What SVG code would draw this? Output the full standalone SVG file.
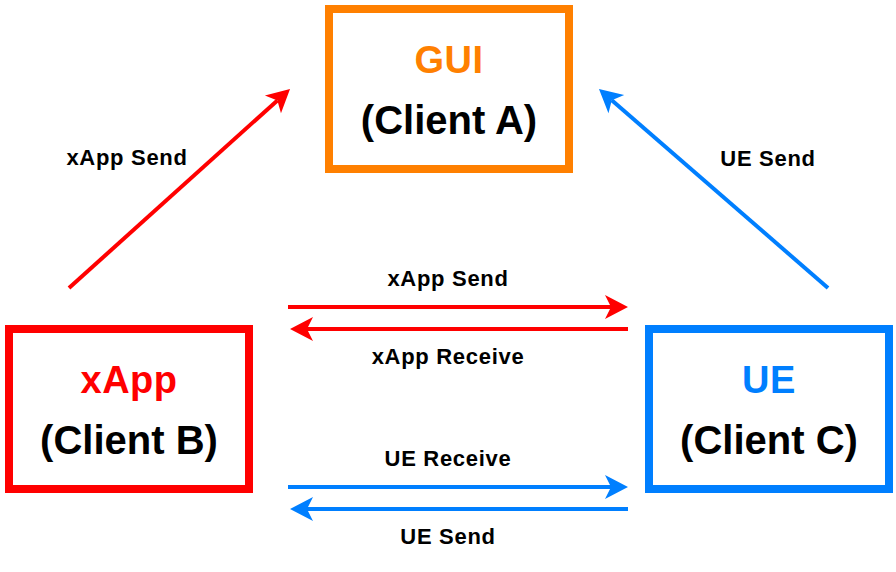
<svg xmlns="http://www.w3.org/2000/svg" width="896" height="572" viewBox="0 0 896 572">
<style>
.box{fill:#fff;stroke-width:8}
.title{font-family:"Liberation Sans",Arial,sans-serif;font-weight:bold;font-size:38px;letter-spacing:0.5px;text-anchor:middle}
.sub{font-family:"Liberation Sans",Arial,sans-serif;font-weight:bold;font-size:40px;text-anchor:middle;fill:#000}
.lbl{font-family:"Liberation Sans",Arial,sans-serif;font-weight:bold;font-size:22px;letter-spacing:0.7px;text-anchor:middle;fill:#000}
.r{stroke:#FF0000;stroke-width:4;fill:none}
.b{stroke:#007FFF;stroke-width:4;fill:none}
</style>
<defs>
<marker id="ar" markerUnits="userSpaceOnUse" viewBox="-24 -13 26 26" refX="-17" refY="0" markerWidth="26" markerHeight="26" orient="auto"><path d="M0,0 L-23,-12 L-17,0 L-23,12 Z" fill="#FF0000"/></marker>
<marker id="ab" markerUnits="userSpaceOnUse" viewBox="-24 -13 26 26" refX="-17" refY="0" markerWidth="26" markerHeight="26" orient="auto"><path d="M0,0 L-23,-12 L-17,0 L-23,12 Z" fill="#007FFF"/></marker>
</defs>
<rect width="896" height="572" fill="#fff"/>
<g id="gui">
<rect class="box" x="329" y="9" width="240" height="160" stroke="#FF8000"/>
<text class="title" x="449" y="73" fill="#FF8000">GUI</text>
<text class="sub" x="449" y="134">(Client A)</text>
</g>
<g id="xapp">
<rect class="box" x="9" y="329" width="240" height="160" stroke="#FF0000"/>
<text class="title" x="129" y="393" fill="#FF0000">xApp</text>
<text class="sub" x="129" y="454">(Client B)</text>
</g>
<g id="ue">
<rect class="box" x="649" y="329" width="240" height="160" stroke="#007FFF"/>
<text class="title" x="769" y="393" fill="#007FFF">UE</text>
<text class="sub" x="769" y="454">(Client C)</text>
</g>
<g id="connectors">
<line class="r" x1="69" y1="288" x2="277.4" y2="100.4" marker-end="url(#ar)"/>
<line class="b" x1="828" y1="288" x2="611.8" y2="100.2" marker-end="url(#ab)"/>
<line class="r" x1="288" y1="307" x2="611" y2="307" marker-end="url(#ar)"/>
<line class="r" x1="628" y1="329" x2="307" y2="329" marker-end="url(#ar)"/>
<line class="b" x1="288" y1="487" x2="611" y2="487" marker-end="url(#ab)"/>
<line class="b" x1="628" y1="509" x2="307" y2="509" marker-end="url(#ab)"/>
</g>
<g id="labels">
<text class="lbl" x="127" y="165">xApp Send</text>
<text class="lbl" x="768" y="166">UE Send</text>
<text class="lbl" x="448" y="286">xApp Send</text>
<text class="lbl" x="448" y="364">xApp Receive</text>
<text class="lbl" x="448" y="466">UE Receive</text>
<text class="lbl" x="448" y="544">UE Send</text>
</g>
</svg>
